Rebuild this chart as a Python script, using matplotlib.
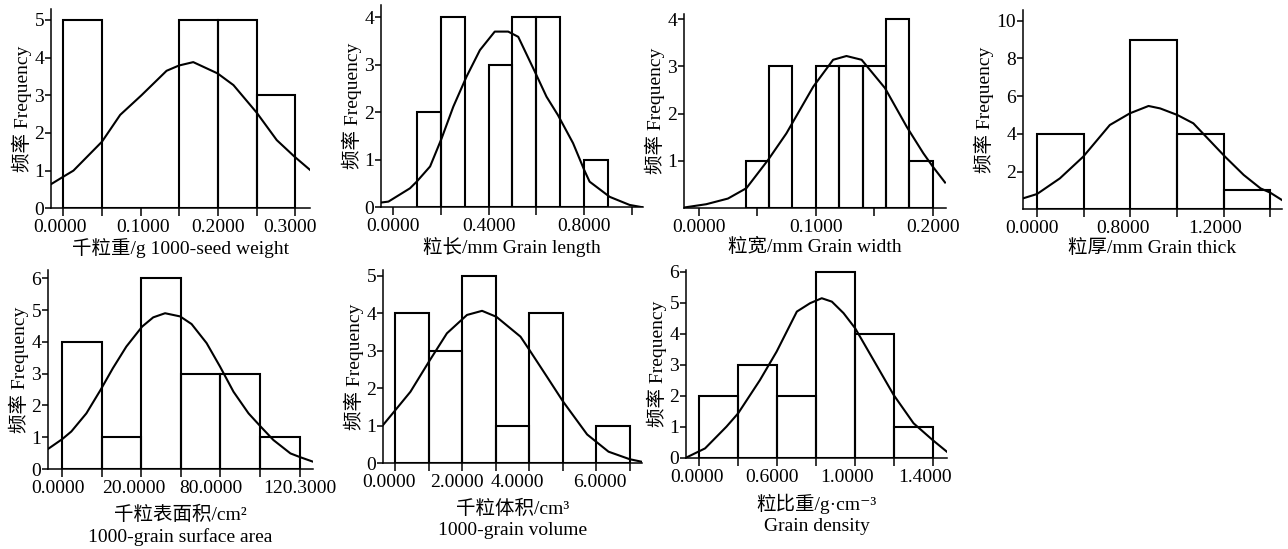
import matplotlib
matplotlib.use('Agg')
import matplotlib.pyplot as plt
import numpy as np

plt.rcParams['font.family'] = ['Liberation Serif', 'Noto Sans CJK SC', 'DejaVu Serif']
plt.rcParams['font.size'] = 14

# bin counts (bins of equal width, x measured in bin units)
counts_seed = [5, 0, 0, 5, 5, 3]
counts_length = [2, 4, 0, 3, 4, 4, 0, 1]
counts_width = [1, 3, 0, 3, 3, 3, 4, 1]
counts_thick = [4, 0, 9, 4, 1]
counts_area = [4, 1, 6, 3, 3, 1]
counts_volume = [4, 3, 5, 1, 4, 0, 1]
counts_density = [2, 3, 2, 6, 4, 1]

# fitted normal curves (x in bin units)
curve_seed_x = [-0.32, 0, 0.26, 1, 1.47, 2.02, 2.67, 2.99, 3.36, 3.99, 4.4, 5, 5.52, 5.98, 6.38]
curve_seed_y = [0.64, 0.84, 1.0, 1.77, 2.48, 3.0, 3.65, 3.79, 3.88, 3.58, 3.27, 2.54, 1.81, 1.37, 1.02]
curve_length_x = [-1.49, -1.18, -0.28, 0, 0.56, 1.04, 1.53, 2.08, 2.64, 3.26, 3.82, 4.24, 4.93,
                  5.42, 5.9, 6.53, 7.0, 7.22, 8.06, 8.89, 9.44]
curve_length_y = [0.1, 0.12, 0.4, 0.54, 0.86, 1.45, 2.12, 2.75, 3.31, 3.7, 3.7, 3.59, 2.86,
                  2.33, 1.94, 1.35, 0.78, 0.54, 0.22, 0.05, 0.0]
curve_width_x = [-2.64, -1.69, -0.76, 0.03, 0.96, 1.74, 2.89, 3.74, 4.31, 4.96, 5.96, 6.89, 7.6, 8, 8.53]
curve_width_y = [0.01, 0.08, 0.2, 0.42, 1.02, 1.58, 2.57, 3.14, 3.22, 3.14, 2.54, 1.72, 1.16, 0.88, 0.54]
curve_thick_x = [-0.3, 0, 0.49, 0.99, 1.56, 1.99, 2.39, 2.64, 3.01, 3.35, 4.03, 4.43, 4.79, 5, 5.25]
curve_thick_y = [0.58, 0.81, 1.64, 2.79, 4.47, 5.09, 5.48, 5.35, 5.0, 4.56, 2.79, 1.82, 1.11, 0.88, 0.49]
curve_area_x = [-0.36, 0, 0.23, 0.61, 0.97, 1.28, 1.62, 2.02, 2.3, 2.6, 2.98, 3.27, 3.65, 3.99,
                4.33, 4.71, 5.02, 5.34, 5.77, 6.02, 6.34]
curve_area_y = [0.63, 0.94, 1.18, 1.75, 2.49, 3.17, 3.85, 4.48, 4.77, 4.9, 4.8, 4.56, 3.96, 3.22,
                2.43, 1.75, 1.33, 0.91, 0.49, 0.37, 0.23]
curve_volume_x = [-0.37, 0, 0.45, 1, 1.54, 2.14, 2.59, 3.02, 3.74, 4.01, 4.53, 5.01, 5.73, 6.37, 7, 7.37]
curve_volume_y = [1.02, 1.42, 1.91, 2.71, 3.47, 3.96, 4.07, 3.91, 3.38, 3.02, 2.31, 1.65, 0.77, 0.31, 0.11, 0.04]
curve_density_x = [-0.34, 0.15, 0.7, 1, 1.56, 1.99, 2.51, 2.85, 3.15, 3.41, 3.71, 4.01, 4.48, 5, 5.51, 6, 6.37]
curve_density_y = [0, 0.3, 1.0, 1.43, 2.5, 3.42, 4.71, 4.98, 5.14, 5.03, 4.66, 4.17, 3.15, 2.02, 1.11, 0.57, 0.19]

# tick marks and tick label texts
ticks_seed = [0, 1, 2, 3, 4, 5, 6]
labels_seed = ['0.0000', '0.1000', '0.2000', '0.3000']
labelpos_seed = [-0.1, 2.05, 4.0, 5.85]
ticks_length = [-1, 1, 3, 5, 7, 9]
labels_length = ['0.0000', '0.4000', '0.8000']
labelpos_length = [-1, 3, 7]
ticks_width = [-2, 0.5, 3, 5.5, 8]
labels_width = ['0.0000', '0.1000', '0.2000']
labelpos_width = [-2, 3, 8]
ticks_thick = [0, 1, 2, 3, 4, 5]
labels_thick = ['0.0000', '0.8000', '1.2000']
labelpos_thick = [-0.1, 1.85, 3.82]
ticks_area = [0, 1, 2, 3, 4, 5, 6]
labels_area = ['0.0000', '20.0000', '80.0000', '120.3000']
labelpos_area = [-0.1, 1.8, 3.75, 6.0]
ticks_volume = [0, 1, 2, 3, 4, 5, 6, 7]
labels_volume = ['0.0000', '2.0000', '4.0000', '6.0000']
labelpos_volume = [-0.2, 1.85, 3.65, 6.1]
ticks_density = [0, 1, 2, 3, 4, 5, 6]
labels_density = ['0.0000', '0.6000', '1.0000', '1.4000']
labelpos_density = [-0.05, 1.88, 3.8, 5.8]

fig = plt.figure(figsize=(12.88, 5.49), dpi=100)
W, H = 1288.0, 549.0


def panel(box, counts, cx, cy, ticks, labelpos, labels, xlim, ylim, yticks, xlabel, xpad=1):
    l, r, b, t = box
    ax = fig.add_axes([l / W, (H - b) / H, (r - l) / W, (b - t) / H])
    edges = np.arange(len(counts))
    ax.bar(edges, counts, width=1, align='edge', fill=False,
           edgecolor='black', linewidth=1.5)
    ax.plot(cx, cy, color='black', linewidth=1.5)
    ax.set_xlim(*xlim)
    ax.set_ylim(*ylim)
    for s in ('top', 'right'):
        ax.spines[s].set_visible(False)
    for s in ('left', 'bottom'):
        ax.spines[s].set_linewidth(1.1)
    ax.xaxis.remove_overlapping_locs = False
    ax.set_xticks(ticks)
    ax.set_xticklabels([])
    ax.set_xticks(labelpos, labels, minor=True)
    ax.tick_params(axis='x', which='major', length=6, width=1.1, direction='out')
    ax.tick_params(axis='x', which='minor', length=0, pad=8, labelsize=14)
    ax.set_yticks(yticks)
    ax.tick_params(axis='y', length=4, width=1.1, pad=1, labelsize=14)
    ax.set_ylabel('频率 Frequency', fontsize=14, labelpad=1.5)
    ax.set_xlabel(xlabel, fontsize=14, labelpad=xpad, linespacing=1.3)
    return ax


panel((51, 310, 208.3, 9), counts_seed, curve_seed_x, curve_seed_y, ticks_seed,
      labelpos_seed, labels_seed, (-0.32, 6.38), (0, 5.29), [0, 1, 2, 3, 4, 5],
      '千粒重/g 1000-seed weight')
panel((381, 643, 207.3, 5), counts_length, curve_length_x, curve_length_y, ticks_length,
      labelpos_length, labels_length, (-1.49, 9.45), (0, 4.26), [0, 1, 2, 3, 4],
      '粒长/mm Grain length')
panel((684, 946, 208, 14), counts_width, curve_width_x, curve_width_y, ticks_width,
      labelpos_width, labels_width, (-2.64, 8.57), (0, 4.11), [1, 2, 3, 4],
      '粒宽/mm Grain width')
panel((1023, 1282, 209.3, 10), counts_thick, curve_thick_x, curve_thick_y, ticks_thick,
      labelpos_thick, labels_thick, (-0.3, 5.25), (0, 10.57), [2, 4, 6, 8, 10],
      '粒厚/mm Grain thick')
panel((48, 313, 469, 270), counts_area, curve_area_x, curve_area_y, ticks_area,
      labelpos_area, labels_area, (-0.36, 6.34), (0, 6.26), [0, 1, 2, 3, 4, 5, 6],
      '千粒表面积/cm²\n1000-grain surface area', xpad=6)
panel((383, 642, 463.3, 270), counts_volume, curve_volume_x, curve_volume_y, ticks_volume,
      labelpos_volume, labels_volume, (-0.37, 7.37), (0, 5.16), [0, 1, 2, 3, 4, 5],
      '千粒体积/cm³\n1000-grain volume', xpad=6)
panel((686, 947, 457.7, 270), counts_density, curve_density_x, curve_density_y, ticks_density,
      labelpos_density, labels_density, (-0.34, 6.37), (0, 6.05), [0, 1, 2, 3, 4, 5, 6],
      '粒比重/g·cm⁻³\nGrain density', xpad=6)

fig.savefig('out.png', dpi=100)
